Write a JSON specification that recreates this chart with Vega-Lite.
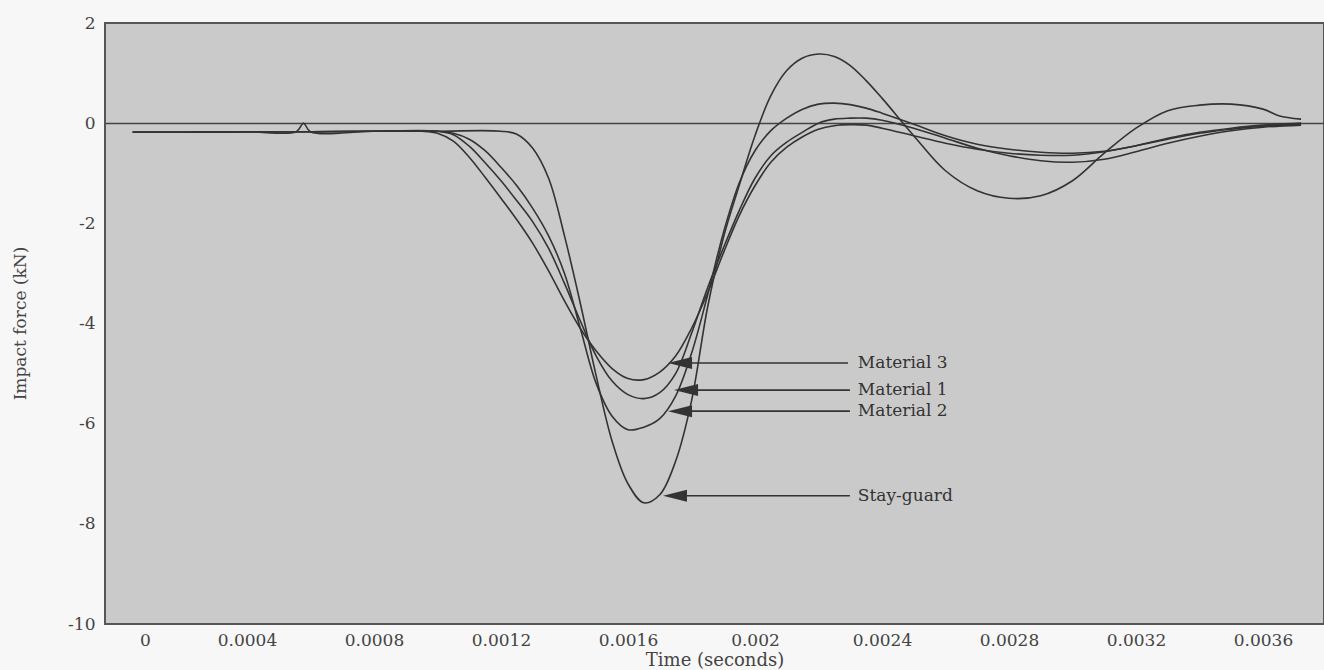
{
  "$schema": "https://vega.github.io/schema/vega-lite/v6.json",
  "width": 1219,
  "height": 601,
  "autosize": "none",
  "padding": {"left": 105, "top": 23, "right": 0, "bottom": 46},
  "background": "#f7f7f7",
  "config": {
    "view": {"fill": "#cacaca", "stroke": "#555555", "strokeWidth": 2},
    "font": "DejaVu Serif"
  },
  "datasets": {
    "curves": [
      {"s": "Stay-guard", "t": 0.00004, "f": -0.18},
      {"s": "Stay-guard", "t": 0.0002, "f": -0.18},
      {"s": "Stay-guard", "t": 0.0004, "f": -0.17},
      {"s": "Stay-guard", "t": 0.0006, "f": -0.17},
      {"s": "Stay-guard", "t": 0.0008, "f": -0.16},
      {"s": "Stay-guard", "t": 0.001, "f": -0.16},
      {"s": "Stay-guard", "t": 0.0012, "f": -0.16},
      {"s": "Stay-guard", "t": 0.00125, "f": -0.22},
      {"s": "Stay-guard", "t": 0.0013, "f": -0.5},
      {"s": "Stay-guard", "t": 0.00135, "f": -1.1},
      {"s": "Stay-guard", "t": 0.0014, "f": -2.25},
      {"s": "Stay-guard", "t": 0.00145, "f": -3.6},
      {"s": "Stay-guard", "t": 0.0015, "f": -5.05},
      {"s": "Stay-guard", "t": 0.00155, "f": -6.35},
      {"s": "Stay-guard", "t": 0.0016, "f": -7.2},
      {"s": "Stay-guard", "t": 0.00165, "f": -7.58},
      {"s": "Stay-guard", "t": 0.0017, "f": -7.42},
      {"s": "Stay-guard", "t": 0.00175, "f": -6.75},
      {"s": "Stay-guard", "t": 0.0018, "f": -5.55},
      {"s": "Stay-guard", "t": 0.00185, "f": -3.7},
      {"s": "Stay-guard", "t": 0.0019, "f": -2.3},
      {"s": "Stay-guard", "t": 0.00195, "f": -1.25},
      {"s": "Stay-guard", "t": 0.002, "f": -0.25},
      {"s": "Stay-guard", "t": 0.00205, "f": 0.55},
      {"s": "Stay-guard", "t": 0.0021, "f": 1.05},
      {"s": "Stay-guard", "t": 0.00215, "f": 1.3},
      {"s": "Stay-guard", "t": 0.0022, "f": 1.38},
      {"s": "Stay-guard", "t": 0.00225, "f": 1.33},
      {"s": "Stay-guard", "t": 0.0023, "f": 1.15},
      {"s": "Stay-guard", "t": 0.00235, "f": 0.85},
      {"s": "Stay-guard", "t": 0.0024, "f": 0.5},
      {"s": "Stay-guard", "t": 0.0025, "f": -0.25},
      {"s": "Stay-guard", "t": 0.0026, "f": -0.95},
      {"s": "Stay-guard", "t": 0.0027, "f": -1.35},
      {"s": "Stay-guard", "t": 0.0028, "f": -1.5},
      {"s": "Stay-guard", "t": 0.0029, "f": -1.45},
      {"s": "Stay-guard", "t": 0.003, "f": -1.15},
      {"s": "Stay-guard", "t": 0.0031, "f": -0.6},
      {"s": "Stay-guard", "t": 0.0032, "f": -0.1},
      {"s": "Stay-guard", "t": 0.0033, "f": 0.25},
      {"s": "Stay-guard", "t": 0.0034, "f": 0.36},
      {"s": "Stay-guard", "t": 0.0035, "f": 0.38},
      {"s": "Stay-guard", "t": 0.0036, "f": 0.28},
      {"s": "Stay-guard", "t": 0.00365, "f": 0.15},
      {"s": "Stay-guard", "t": 0.00372, "f": 0.08},

      {"s": "Material 3", "t": 0.00004, "f": -0.18},
      {"s": "Material 3", "t": 0.0002, "f": -0.18},
      {"s": "Material 3", "t": 0.0004, "f": -0.17},
      {"s": "Material 3", "t": 0.0006, "f": -0.17},
      {"s": "Material 3", "t": 0.0008, "f": -0.16},
      {"s": "Material 3", "t": 0.00095, "f": -0.16},
      {"s": "Material 3", "t": 0.001, "f": -0.2},
      {"s": "Material 3", "t": 0.00105, "f": -0.36},
      {"s": "Material 3", "t": 0.0011, "f": -0.68},
      {"s": "Material 3", "t": 0.00115, "f": -1.08},
      {"s": "Material 3", "t": 0.0012, "f": -1.5},
      {"s": "Material 3", "t": 0.00125, "f": -1.93},
      {"s": "Material 3", "t": 0.0013, "f": -2.4},
      {"s": "Material 3", "t": 0.00135, "f": -2.95},
      {"s": "Material 3", "t": 0.0014, "f": -3.55},
      {"s": "Material 3", "t": 0.00145, "f": -4.1},
      {"s": "Material 3", "t": 0.0015, "f": -4.55},
      {"s": "Material 3", "t": 0.00155, "f": -4.9},
      {"s": "Material 3", "t": 0.0016, "f": -5.1},
      {"s": "Material 3", "t": 0.00165, "f": -5.12},
      {"s": "Material 3", "t": 0.0017, "f": -4.97},
      {"s": "Material 3", "t": 0.00175, "f": -4.65},
      {"s": "Material 3", "t": 0.0018, "f": -4.1},
      {"s": "Material 3", "t": 0.00185, "f": -3.4},
      {"s": "Material 3", "t": 0.0019, "f": -2.6},
      {"s": "Material 3", "t": 0.00195, "f": -1.85},
      {"s": "Material 3", "t": 0.002, "f": -1.25},
      {"s": "Material 3", "t": 0.00205, "f": -0.78},
      {"s": "Material 3", "t": 0.0021, "f": -0.48},
      {"s": "Material 3", "t": 0.00215, "f": -0.27},
      {"s": "Material 3", "t": 0.0022, "f": -0.12},
      {"s": "Material 3", "t": 0.00225, "f": -0.05},
      {"s": "Material 3", "t": 0.0023, "f": -0.03},
      {"s": "Material 3", "t": 0.00235, "f": -0.04},
      {"s": "Material 3", "t": 0.0024, "f": -0.1},
      {"s": "Material 3", "t": 0.0025, "f": -0.25},
      {"s": "Material 3", "t": 0.0026, "f": -0.4},
      {"s": "Material 3", "t": 0.0027, "f": -0.52},
      {"s": "Material 3", "t": 0.0028, "f": -0.6},
      {"s": "Material 3", "t": 0.0029, "f": -0.64},
      {"s": "Material 3", "t": 0.003, "f": -0.64},
      {"s": "Material 3", "t": 0.0031, "f": -0.57},
      {"s": "Material 3", "t": 0.0032, "f": -0.45},
      {"s": "Material 3", "t": 0.0033, "f": -0.32},
      {"s": "Material 3", "t": 0.0034, "f": -0.2},
      {"s": "Material 3", "t": 0.0035, "f": -0.12},
      {"s": "Material 3", "t": 0.0036, "f": -0.06},
      {"s": "Material 3", "t": 0.00372, "f": -0.02},

      {"s": "Material 1", "t": 0.00004, "f": -0.18},
      {"s": "Material 1", "t": 0.0002, "f": -0.18},
      {"s": "Material 1", "t": 0.0004, "f": -0.17},
      {"s": "Material 1", "t": 0.0006, "f": -0.17},
      {"s": "Material 1", "t": 0.0008, "f": -0.16},
      {"s": "Material 1", "t": 0.001, "f": -0.16},
      {"s": "Material 1", "t": 0.00105, "f": -0.23},
      {"s": "Material 1", "t": 0.0011, "f": -0.46},
      {"s": "Material 1", "t": 0.00115, "f": -0.79},
      {"s": "Material 1", "t": 0.0012, "f": -1.15},
      {"s": "Material 1", "t": 0.00125, "f": -1.55},
      {"s": "Material 1", "t": 0.0013, "f": -1.97},
      {"s": "Material 1", "t": 0.00135, "f": -2.5},
      {"s": "Material 1", "t": 0.0014, "f": -3.2},
      {"s": "Material 1", "t": 0.00145, "f": -3.95},
      {"s": "Material 1", "t": 0.0015, "f": -4.65},
      {"s": "Material 1", "t": 0.00155, "f": -5.15},
      {"s": "Material 1", "t": 0.0016, "f": -5.42},
      {"s": "Material 1", "t": 0.00165, "f": -5.5},
      {"s": "Material 1", "t": 0.0017, "f": -5.38},
      {"s": "Material 1", "t": 0.00175, "f": -5.0},
      {"s": "Material 1", "t": 0.0018, "f": -4.2},
      {"s": "Material 1", "t": 0.00185, "f": -3.3},
      {"s": "Material 1", "t": 0.0019, "f": -2.5},
      {"s": "Material 1", "t": 0.00195, "f": -1.75},
      {"s": "Material 1", "t": 0.002, "f": -1.1},
      {"s": "Material 1", "t": 0.00205, "f": -0.65},
      {"s": "Material 1", "t": 0.0021, "f": -0.38},
      {"s": "Material 1", "t": 0.00215, "f": -0.18},
      {"s": "Material 1", "t": 0.0022, "f": 0.0},
      {"s": "Material 1", "t": 0.00225, "f": 0.08},
      {"s": "Material 1", "t": 0.0023, "f": 0.1},
      {"s": "Material 1", "t": 0.00235, "f": 0.1},
      {"s": "Material 1", "t": 0.0024, "f": 0.06},
      {"s": "Material 1", "t": 0.0025, "f": -0.1},
      {"s": "Material 1", "t": 0.0026, "f": -0.3},
      {"s": "Material 1", "t": 0.0027, "f": -0.5},
      {"s": "Material 1", "t": 0.0028, "f": -0.65},
      {"s": "Material 1", "t": 0.0029, "f": -0.75},
      {"s": "Material 1", "t": 0.003, "f": -0.78},
      {"s": "Material 1", "t": 0.0031, "f": -0.72},
      {"s": "Material 1", "t": 0.0032, "f": -0.57},
      {"s": "Material 1", "t": 0.0033, "f": -0.4},
      {"s": "Material 1", "t": 0.0034, "f": -0.26},
      {"s": "Material 1", "t": 0.0035, "f": -0.15},
      {"s": "Material 1", "t": 0.0036, "f": -0.08},
      {"s": "Material 1", "t": 0.00372, "f": -0.04},

      {"s": "Material 2", "t": 0.00004, "f": -0.18},
      {"s": "Material 2", "t": 0.0002, "f": -0.18},
      {"s": "Material 2", "t": 0.0004, "f": -0.17},
      {"s": "Material 2", "t": 0.000555, "f": -0.17},
      {"s": "Material 2", "t": 0.000578, "f": 0.0},
      {"s": "Material 2", "t": 0.0006, "f": -0.17},
      {"s": "Material 2", "t": 0.0008, "f": -0.16},
      {"s": "Material 2", "t": 0.001, "f": -0.16},
      {"s": "Material 2", "t": 0.00105, "f": -0.2},
      {"s": "Material 2", "t": 0.0011, "f": -0.32},
      {"s": "Material 2", "t": 0.00115, "f": -0.55},
      {"s": "Material 2", "t": 0.0012, "f": -0.88},
      {"s": "Material 2", "t": 0.00125, "f": -1.25},
      {"s": "Material 2", "t": 0.0013, "f": -1.7},
      {"s": "Material 2", "t": 0.00135, "f": -2.25},
      {"s": "Material 2", "t": 0.0014, "f": -3.0},
      {"s": "Material 2", "t": 0.00145, "f": -4.1},
      {"s": "Material 2", "t": 0.0015, "f": -5.2},
      {"s": "Material 2", "t": 0.00155, "f": -5.85},
      {"s": "Material 2", "t": 0.0016, "f": -6.12},
      {"s": "Material 2", "t": 0.00165, "f": -6.07},
      {"s": "Material 2", "t": 0.0017, "f": -5.9},
      {"s": "Material 2", "t": 0.00175, "f": -5.45},
      {"s": "Material 2", "t": 0.0018, "f": -4.6},
      {"s": "Material 2", "t": 0.00185, "f": -3.45},
      {"s": "Material 2", "t": 0.0019, "f": -2.2},
      {"s": "Material 2", "t": 0.00195, "f": -1.2},
      {"s": "Material 2", "t": 0.002, "f": -0.55},
      {"s": "Material 2", "t": 0.00205, "f": -0.15},
      {"s": "Material 2", "t": 0.0021, "f": 0.1},
      {"s": "Material 2", "t": 0.00215, "f": 0.28},
      {"s": "Material 2", "t": 0.0022, "f": 0.38},
      {"s": "Material 2", "t": 0.00225, "f": 0.4},
      {"s": "Material 2", "t": 0.0023, "f": 0.37},
      {"s": "Material 2", "t": 0.00235, "f": 0.3},
      {"s": "Material 2", "t": 0.0024, "f": 0.2},
      {"s": "Material 2", "t": 0.0025, "f": -0.02},
      {"s": "Material 2", "t": 0.0026, "f": -0.25},
      {"s": "Material 2", "t": 0.0027, "f": -0.42},
      {"s": "Material 2", "t": 0.0028, "f": -0.52},
      {"s": "Material 2", "t": 0.0029, "f": -0.58},
      {"s": "Material 2", "t": 0.003, "f": -0.6},
      {"s": "Material 2", "t": 0.0031, "f": -0.56},
      {"s": "Material 2", "t": 0.0032, "f": -0.45},
      {"s": "Material 2", "t": 0.0033, "f": -0.3},
      {"s": "Material 2", "t": 0.0034, "f": -0.18},
      {"s": "Material 2", "t": 0.0035, "f": -0.1},
      {"s": "Material 2", "t": 0.0036, "f": -0.04},
      {"s": "Material 2", "t": 0.00372, "f": 0.0}
    ],
    "arrows": [
      {"label": "Material 3", "t": 0.001764, "t2": 0.002293, "tl": 0.002324, "f": -4.79},
      {"label": "Material 1", "t": 0.001783, "t2": 0.002299, "tl": 0.002324, "f": -5.33},
      {"label": "Material 2", "t": 0.001764, "t2": 0.002299, "tl": 0.002324, "f": -5.75},
      {"label": "Stay-guard", "t": 0.001748, "t2": 0.002299, "tl": 0.002324, "f": -7.44}
    ]
  },
  "encoding": {
    "x": {
      "field": "t",
      "type": "quantitative",
      "scale": {"domain": [-0.0000472, 0.0037922], "nice": false, "zero": false},
      "axis": {
        "values": [0, 0.0004, 0.0008, 0.0012, 0.0016, 0.002, 0.0024, 0.0028, 0.0032, 0.0036],
        "format": "~g",
        "ticks": false,
        "domain": false,
        "grid": false,
        "labelPadding": 8,
        "labelFontSize": 17,
        "labelColor": "#444444",
        "labelFont": "DejaVu Serif",
        "labelFlush": false,
        "labelOverlap": false,
        "labelOffset": {"condition": {"test": "datum.value === 0", "value": 25}, "value": 0},
        "title": "Time (seconds)",
        "titleFont": "DejaVu Serif",
        "titleFontSize": 18,
        "titleFontWeight": "normal",
        "titleColor": "#444444",
        "titleY": 27,
        "titleBaseline": "top"
      }
    },
    "y": {
      "field": "f",
      "type": "quantitative",
      "scale": {"domain": [-10, 2], "nice": false, "zero": false},
      "axis": {
        "values": [-10, -8, -6, -4, -2, 0, 2],
        "labelExpr": "toString(datum.value)",
        "ticks": false,
        "domain": false,
        "grid": true,
        "gridColor": "#444444",
        "gridWidth": 1.6,
        "gridOpacity": {"condition": {"test": "datum.value === 0", "value": 1}, "value": 0},
        "labelPadding": 10,
        "labelFontSize": 17,
        "labelColor": "#444444",
        "labelFont": "DejaVu Serif",
        "labelFlush": false,
        "labelOverlap": false,
        "title": "Impact force (kN)",
        "titleFont": "DejaVu Serif",
        "titleFontSize": 17,
        "titleFontWeight": "normal",
        "titleColor": "#444444",
        "titleAngle": 270,
        "titleX": -85,
        "titleY": 300,
        "titleBaseline": "middle"
      }
    }
  },
  "layer": [
    {
      "data": {"name": "curves"},
      "mark": {"type": "line", "interpolate": "catmull-rom", "stroke": "#333333", "strokeWidth": 1.6},
      "encoding": {"detail": {"field": "s", "type": "nominal"}}
    },
    {
      "data": {"name": "arrows"},
      "mark": {"type": "rule", "stroke": "#333333", "strokeWidth": 1.6},
      "encoding": {"x2": {"field": "t2"}}
    },
    {
      "data": {"name": "arrows"},
      "mark": {"type": "point", "shape": "M -1 0 L 1 -0.5 L 1 0.5 Z", "size": 576, "filled": true, "fill": "#333333", "opacity": 1, "strokeWidth": 0}
    },
    {
      "data": {"name": "arrows"},
      "mark": {"type": "text", "align": "left", "baseline": "middle", "fontSize": 17, "font": "DejaVu Serif", "fill": "#333333"},
      "encoding": {
        "x": {"field": "tl", "type": "quantitative"},
        "text": {"field": "label", "type": "nominal"}
      }
    }
  ]
}
